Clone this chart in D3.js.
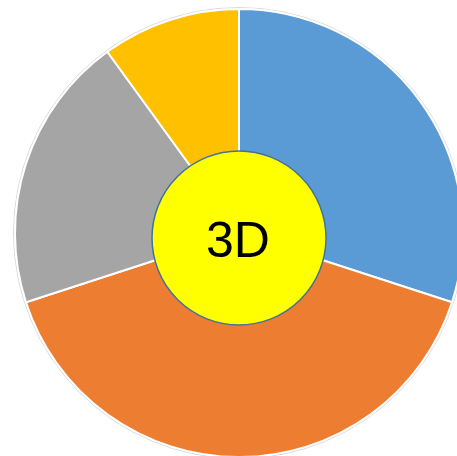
<!DOCTYPE html>
<html>
<head>
<meta charset="utf-8">
<script src="https://cdn.jsdelivr.net/npm/d3@7"></script>
<style>
  html, body { margin: 0; padding: 0; background: #fff; overflow: hidden; }
  svg { display: block; }
</style>
</head>
<body>
<svg id="chart" width="457" height="456"></svg>
<script>
const categories = ['Q1', 'Q2', 'Q3', 'Q4'];
const values = [3, 4, 2, 1];
const colors = ['#5B9BD5', '#ED7D31', '#A5A5A5', '#FFC000'];
const centerLabel = '3D';

const svg = d3.select('#chart');
const cx = 239, cy = 233, radius = 224;

const g = svg.append('g').attr('transform', 'translate(' + cx + ',' + cy + ')');

// faint outline around the pie
g.append('circle')
    .attr('r', radius + 1.5)
    .attr('fill', 'none')
    .attr('stroke', '#d9d9d9')
    .attr('stroke-width', 1);

const pie = d3.pie().sort(null).value(function(d){ return d; });
const arc = d3.arc().innerRadius(0).outerRadius(radius);

const color = d3.scaleOrdinal().domain(categories).range(colors);

g.selectAll('.slice')
    .data(pie(values))
    .enter()
    .append('path')
    .attr('class', 'slice')
    .attr('d', arc)
    .attr('fill', function(d, i){ return color(categories[i]); })
    .attr('stroke', '#fff')
    .attr('stroke-width', 2)
    .attr('stroke-linejoin', 'round');

// center disc
svg.append('circle')
    .attr('cx', 239)
    .attr('cy', 238)
    .attr('r', 87)
    .attr('fill', '#FFFF00')
    .attr('stroke', '#41719C')
    .attr('stroke-width', 1.5);

svg.append('text')
    .attr('x', 238)
    .attr('y', 240)
    .attr('text-anchor', 'middle')
    .attr('dominant-baseline', 'central')
    .attr('font-family', 'Liberation Sans, Arial, sans-serif')
    .attr('font-size', 50)
    .attr('fill', '#000')
    .text(centerLabel);
</script>
</body>
</html>
